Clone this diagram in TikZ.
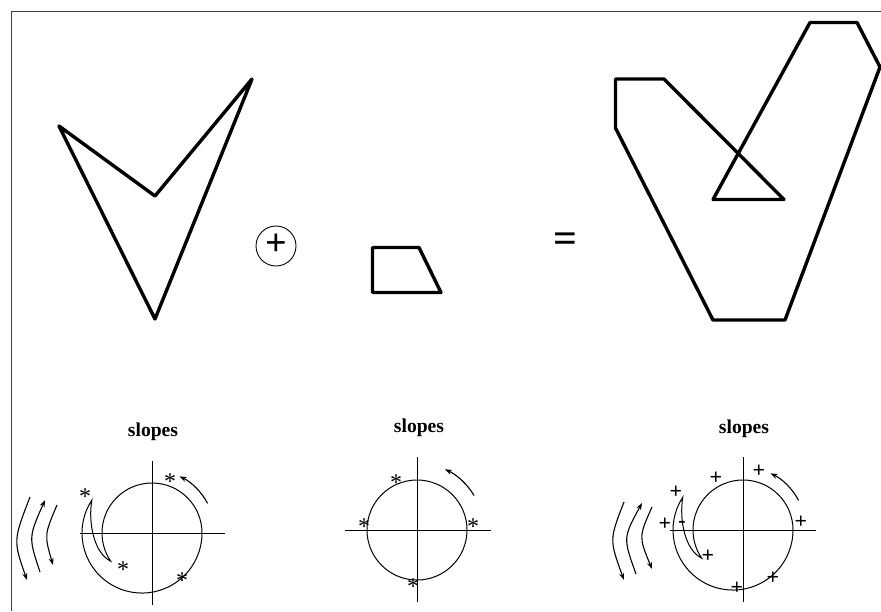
\documentclass[tikz,border=0pt]{standalone}
\usepackage{fontspec}
\setmainfont{Liberation Serif}
\usetikzlibrary{arrows.meta}
\tikzset{
  poly/.style={line width=3.4pt, line join=round},
  frameline/.style={line width=0.8pt, black!75},
  ring/.style={line width=1pt},
  axis/.style={line width=0.8pt},
  turn/.style={line width=1.1pt, -{Stealth[length=7pt,width=5pt]}},
  astnode/.style={anchor=base, inner sep=0pt, font=\fontsize{24}{24}\selectfont},
  plusnode/.style={anchor=base, inner sep=0pt, font=\fontsize{22}{22}\selectfont\bfseries},
  title/.style={anchor=base, inner sep=0pt, font=\fontsize{19.6}{20}\selectfont\bfseries},
}
\begin{document}
\begin{tikzpicture}[x=1pt,y=1pt,yscale=-1]
\useasboundingbox (0,0) rectangle (881,611);
% frame
\draw[frameline] (11,611) -- (11,11) -- (881,11);
% top polygons
\draw[poly] (59,126) -- (155,196) -- (252,79) -- (155,319) -- cycle;
\node[circle, draw, line width=0.9pt, minimum size=40pt, inner sep=0pt] (oplus) at (276,246) {};
\node[anchor=base, inner sep=0pt, font=\fontsize{38}{38}\selectfont\bfseries] (opluss) at (276,255.6) {+};
\draw[poly] (372.5,247.5) -- (419,247.5) -- (441,292.5) -- (372.5,292.5) -- cycle;
\node[anchor=base, inner sep=0pt, font=\fontsize{42}{42}\selectfont\bfseries] (eq) at (565.5,252.6) {=};
\draw[poly] (615.5,79) -- (664,79) -- (784,199.5) -- (713,199.5) -- (810,22.5) -- (857,22.5)
  -- (880,67) -- (785,320) -- (713,320) -- (615.5,128) -- cycle;

% titles
\node[title] (t1) at (153,436.7) {slopes};
\node[title] (t2) at (419,432.7) {slopes};
\node[title] (t3) at (744,433.5) {slopes};

% ---- slope diagram 1
\begin{scope}[shift={(152,533)}]
  \draw[axis] (-72,0) -- (73,0);
  \draw[axis] (0,-72) -- (0,72);
  \draw[ring] (50,0) arc[start angle=0, end angle=-214.3, radius=50pt]
     .. controls (-58,20) and (-64,-10) .. (-60.2,-32.8)
     arc[start angle=213.2, end angle=0, radius=60pt];
  \draw[turn] (55.6,-29.6) arc[start angle=-28, end angle=-64, radius=63pt];
  \draw[turn] (-122,-36) .. controls (-138.8,7.5) .. (-125,47);
  \draw[turn] (-112,39) .. controls (-123.5,4.3) .. (-107,-33);
  \draw[turn] (-95,-28) .. controls (-107.7,2) .. (-99,32);
\end{scope}
\node[astnode] (a1) at (170,489.3) {*};
\node[astnode] (a2) at (85,504.3) {*};
\node[astnode] (a3) at (123,577.3) {*};
\node[astnode] (a4) at (182,588.3) {*};

% ---- slope diagram 2
\begin{scope}[shift={(417,530)}]
  \draw[axis] (-72,0) -- (74,0);
  \draw[axis] (0,-73) -- (0,72);
  \draw[ring] (0,0) circle[radius=50pt];
  \draw[turn] (57.1,-34.5) arc[start angle=-31, end angle=-65, radius=67pt];
\end{scope}
\node[astnode] (b1) at (396,490.3) {*};
\node[astnode] (b2) at (364,534.3) {*};
\node[astnode] (b3) at (473,534.3) {*};
\node[astnode] (b4) at (413,594.3) {*};

% ---- slope diagram 3
\begin{scope}[shift={(743,530)}]
  \draw[axis] (-73,0) -- (73,0);
  \draw[axis] (0,-73) -- (0,72);
  \draw[ring] (50,0) arc[start angle=0, end angle=-214.3, radius=50pt]
     .. controls (-58,20) and (-64,-10) .. (-60.2,-32.8)
     arc[start angle=213.2, end angle=0, radius=60pt];
  \draw[turn] (55.6,-29.6) arc[start angle=-28, end angle=-64, radius=63pt];
  \draw[turn] (-119,-28) .. controls (-133.7,9.7) .. (-119,50);
  \draw[turn] (-107,44) .. controls (-120,7.8) .. (-101,-27);
  \draw[turn] (-91,-23) .. controls (-104.3,6.7) .. (-91,39);
\end{scope}
\node[plusnode] (p1) at (759,477.6) {+};
\node[plusnode] (p2) at (716,484.6) {+};
\node[plusnode] (p3) at (676,498.6) {+};
\node[plusnode] (p4) at (665,530.6) {+};
\node[plusnode] (m1) at (682,527) {-};
\node[plusnode] (p5) at (801,528.6) {+};
\node[plusnode] (p6) at (708,562.6) {+};
\node[plusnode] (p7) at (773,584.6) {+};
\node[plusnode] (p8) at (737,594.6) {+};
\end{tikzpicture}
\end{document}
